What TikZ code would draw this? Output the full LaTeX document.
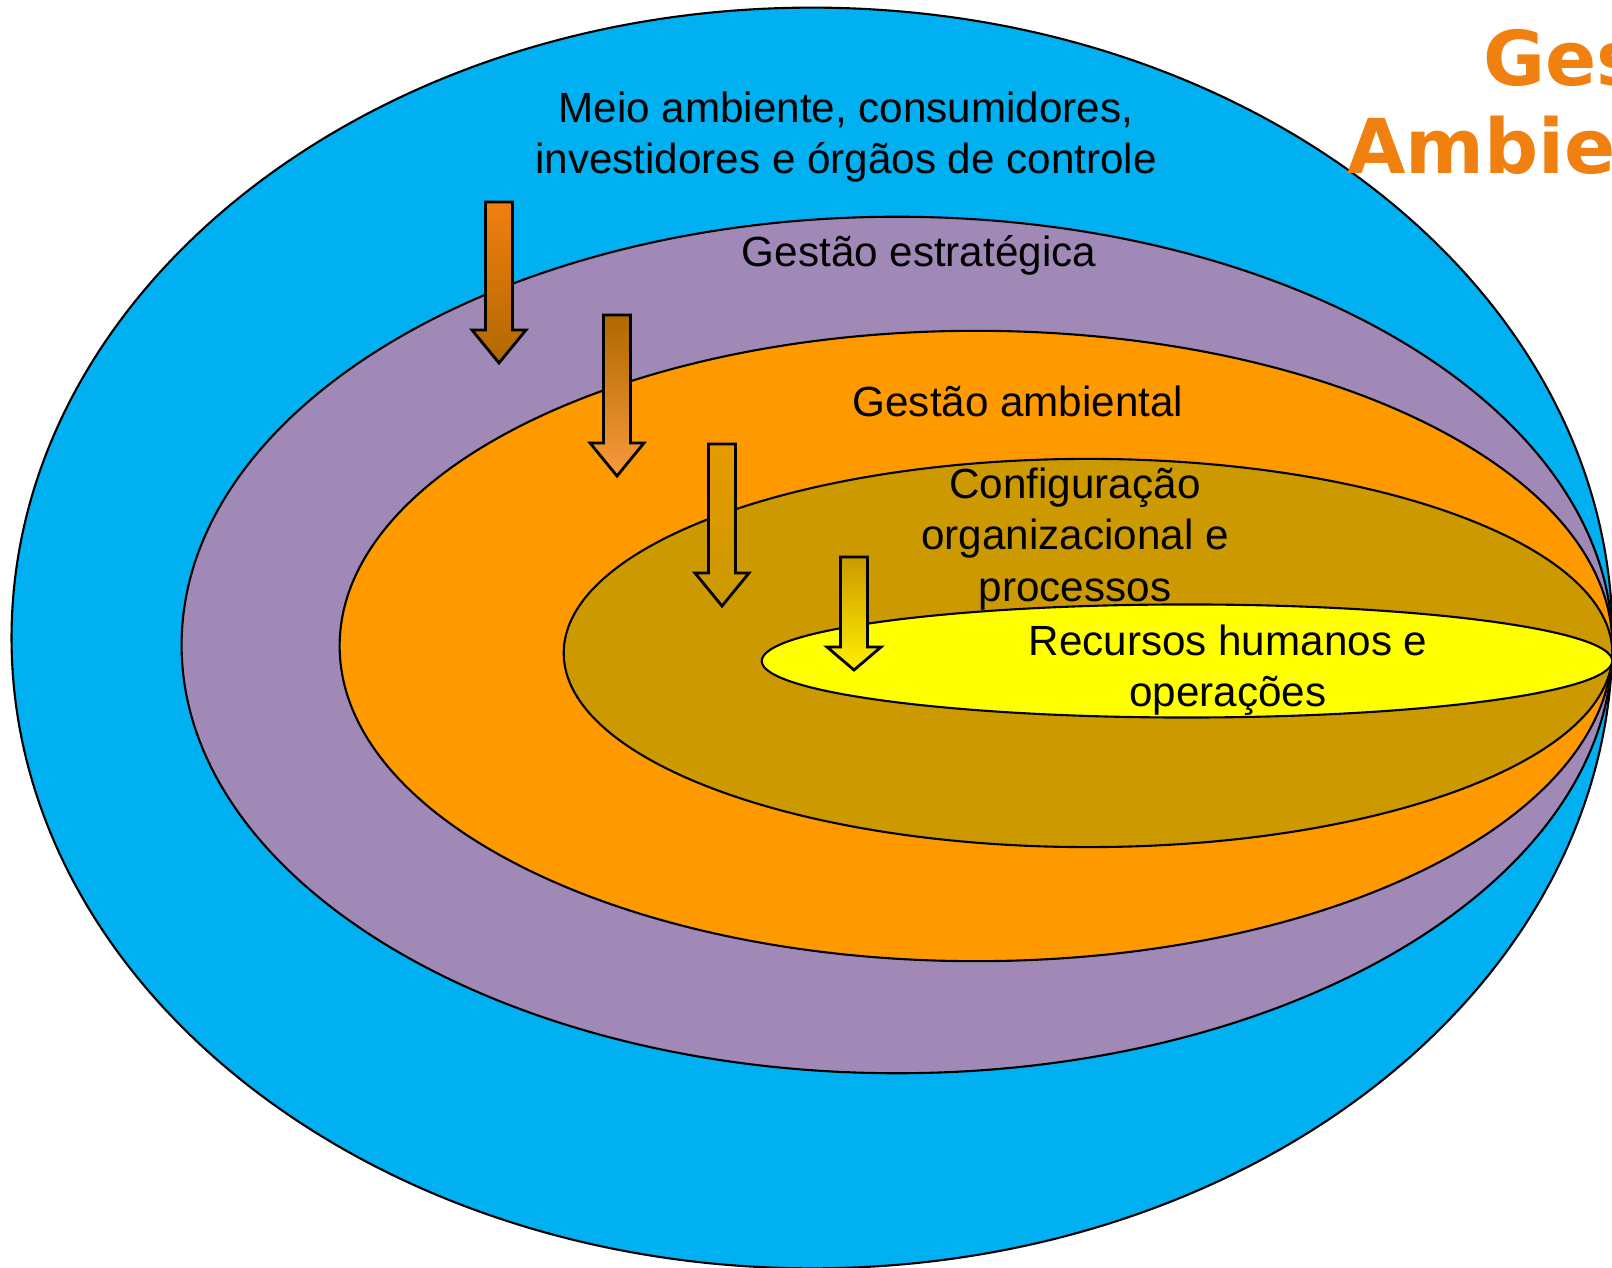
\documentclass[tikz,border=0pt]{standalone}
\usepackage{fontspec}
\setmainfont{Liberation Sans}
\newfontfamily\titlefont{DejaVu Sans}
\usetikzlibrary{shapes.geometric}

\definecolor{ringblue}{HTML}{00B0F0}
\definecolor{ringlilac}{HTML}{A089B7}
\definecolor{ringorange}{HTML}{FF9900}
\definecolor{ringgold}{HTML}{CC9900}
\definecolor{ringyellow}{HTML}{FFFF00}
\definecolor{titleorange}{HTML}{F08010}
\definecolor{arrbrown}{HTML}{B06800}
\definecolor{arrlight}{HTML}{F89A3C}
\definecolor{arramber}{HTML}{E69A00}
\definecolor{arrlemon}{HTML}{FFF000}

% block arrow pointing down: centre x, top, shoulder, tip, top colour, bottom colour
\newcommand{\downblock}[6]{%
  \shade[top color=#5,bottom color=#6,draw=black,line width=0.8pt,line join=miter]
    (#1-13.5,#2) -- (#1+13.5,#2) -- (#1+13.5,#3) -- (#1+27,#3) -- (#1,#4)
    -- (#1-27,#3) -- (#1-13.5,#3) -- cycle;}

\begin{document}
\begin{tikzpicture}[x=0.01cm,y=-0.01cm,line width=0.6pt]
  \tikzstyle{ring}=[draw=black,shape=ellipse,inner sep=0pt]
  \tikzstyle{label}=[align=center,inner sep=0pt,text=black,
                     font=\fontsize{12}{14.6}\selectfont]
  \tikzstyle{heading}=[anchor=base west,inner sep=0pt,text=titleorange,
                       font=\titlefont\bfseries\fontsize{21.5}{25}\selectfont]

  \useasboundingbox (0,0) rectangle (1612,1268);
  \clip (0,0) rectangle (1612,1268);

  \node[ring,fill=ringblue,   minimum width=16.00cm,minimum height=12.60cm] (env)  at (812,638)  {};
  \node[ring,fill=ringlilac,  minimum width=14.30cm,minimum height=8.56cm]  (strat) at (897,645) {};
  \node[ring,fill=ringorange, minimum width=12.72cm,minimum height=6.30cm]  (amb)  at (976,646)  {};
  \node[ring,fill=ringgold,   minimum width=10.48cm,minimum height=3.88cm]  (conf) at (1088,653) {};
  \node[ring,fill=ringyellow, minimum width=8.50cm, minimum height=1.13cm]  (rh)   at (1187,661) {};

  \downblock{499}{202}{330}{363}{titleorange}{arrbrown}
  \downblock{617}{315}{443}{476}{arrbrown}{arrlight}
  \downblock{722}{444}{573}{606}{arramber}{ringgold}
  \downblock{854}{557}{647}{670}{ringgold}{arrlemon}

  \node[label] (envtxt)   at (846,137)  {Meio ambiente, consumidores,\\investidores e órgãos de controle};
  \node[label] (strattxt) at (919,255)  {Gestão estratégica};
  \node[label] (ambtxt)   at (1018,401) {Gestão ambiental};
  \node[label] (conftxt)  at (1075,539) {Configuração\\organizacional e\\processos};
  \node[label] (rhtxt)    at (1228,670) {Recursos humanos e\\operações};

  \node[heading] (title1) at (1482,86)  {Ges};
  \node[heading] (title2) at (1346,174) {Ambie};
\end{tikzpicture}
\end{document}
